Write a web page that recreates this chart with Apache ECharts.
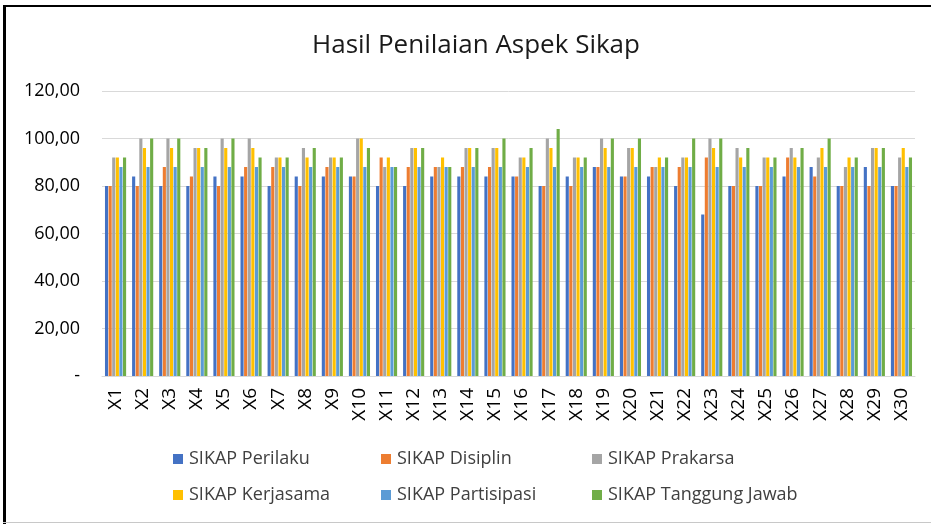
<!DOCTYPE html>
<html>
<head>
<meta charset="utf-8">
<script src="https://cdn.jsdelivr.net/npm/echarts@6/dist/echarts.min.js"></script>
<style>
html,body{margin:0;padding:0;background:#fff;}
#c{width:931px;height:524px;}
</style>
</head>
<body>
<div id="c"></div>
<script>
const categories = ['X1','X2','X3','X4','X5','X6','X7','X8','X9','X10','X11','X12','X13','X14','X15','X16','X17','X18','X19','X20','X21','X22','X23','X24','X25','X26','X27','X28','X29','X30'];
const seriesNames = ['SIKAP Perilaku','SIKAP Disiplin','SIKAP Prakarsa','SIKAP Kerjasama','SIKAP Partisipasi','SIKAP Tanggung Jawab'];
const perilaku     = [80,84,80,80,84,84,80,84,84,84,80,80,84,84,84,84,80,84,88,84,84,80,68,80,80,84,88,80,88,80];
const disiplin     = [80,80,88,84,80,88,88,80,88,84,92,88,88,88,88,84,80,80,88,84,88,88,92,80,80,92,84,80,80,80];
const prakarsa     = [92,100,100,96,100,100,92,96,92,100,88,96,88,96,96,92,100,92,100,96,88,92,100,96,92,96,92,88,96,92];
const kerjasama    = [92,96,96,96,96,96,92,92,92,100,92,96,92,96,96,92,96,92,96,96,92,92,96,92,92,92,96,92,96,96];
const partisipasi  = [88,88,88,88,88,88,88,88,88,88,88,88,88,88,88,88,88,88,88,88,88,88,88,88,88,88,88,88,88,88];
const tanggungJawab= [92,100,100,96,100,92,92,96,92,96,88,96,88,96,100,96,104,92,100,100,92,100,100,96,92,96,100,92,96,92];
const yTicks = [0,20,40,60,80,100,120];
const colors = ['#4472C4','#ED7D31','#A5A5A5','#FFC000','#5B9BD5','#70AD47'];
const values = [perilaku,disiplin,prakarsa,kerjasama,partisipasi,tanggungJawab];

const font = 'Open Sans';
const chart = echarts.init(document.getElementById('c'));
const legendCols = [168, 376, 587];
const legendRows = [445, 481];
const legends = seriesNames.map((n,i)=>({
  data:[n], left:legendCols[i%3], top:legendRows[Math.floor(i/3)],
  itemWidth:10, itemHeight:10, itemGap:0, icon:'rect',
  textStyle:{fontFamily:font, fontSize:18, color:'#404040', padding:[0,0,0,1]}
}));
chart.setOption({
  animation:false,
  color:colors,
  title:{
    text:'Hasil Penilaian Aspek Sikap', left:471, top:28, textAlign:'center',
    textStyle:{fontFamily:font, fontSize:26, fontWeight:'normal', color:'#1a1a1a'}
  },
  legend:legends,
  grid:{left:102, right:16, top:91, bottom:148, containLabel:false},
  xAxis:{
    type:'category', data:categories,
    axisLine:{lineStyle:{color:'#d9d9d9', width:1}},
    axisTick:{show:false},
    axisLabel:{rotate:90, margin:12, fontFamily:font, fontSize:19, color:'#000', interval:0}
  },
  yAxis:{
    type:'value', min:yTicks[0], max:yTicks[yTicks.length-1], interval:20,
    axisLine:{show:false}, axisTick:{show:false},
    splitLine:{lineStyle:{color:'#d9d9d9', width:1}},
    axisLabel:{margin:22, fontFamily:font, fontSize:18, color:'#000',
      formatter:v => v===0 ? '-' : v.toFixed(2).replace('.', ',')}
  },
  graphic:[
    {type:'rect', shape:{x:3, y:5, width:3, height:519}, style:{fill:'#000'}, silent:true},
    {type:'rect', shape:{x:3, y:5, width:928, height:2}, style:{fill:'#000'}, silent:true},
    {type:'rect', shape:{x:3, y:522, width:928, height:1}, style:{fill:'#c8c8c8'}, silent:true}
  ],
  series: seriesNames.map((n,i)=>({
    name:n, type:'bar', data:values[i],
    barGap:'15%', barCategoryGap:'22%'
  }))
});
</script>
</body>
</html>
